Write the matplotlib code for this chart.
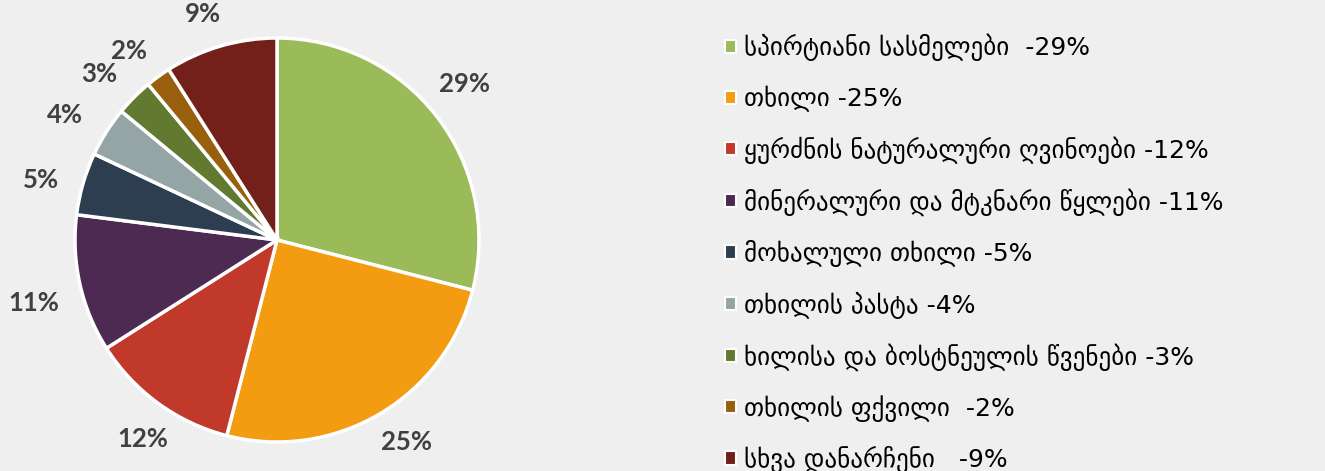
import matplotlib
matplotlib.use("Agg")
import numpy as np
import matplotlib.pyplot as plt
from matplotlib.patches import Patch

# ---- data ----
names = [
    "სპირტიანი სასმელები ",
    "თხილი",
    "ყურძნის ნატურალური ღვინოები",
    "მინერალური და მტკნარი წყლები",
    "მოხალული თხილი",
    "თხილის პასტა",
    "ხილისა და ბოსტნეულის წვენები",
    "თხილის ფქვილი ",
    "სხვა დანარჩენი  ",
]
values = [29, 25, 12, 11, 5, 4, 3, 2, 9]
colors = ["#9BBB59", "#F39C12", "#C0392B", "#4D2A52", "#2C3E50",
          "#95A5A6", "#617A30", "#98600C", "#73201B"]

legend_labels = [f"{n} -{v}%" for n, v in zip(names, values)]
pct_labels = [f"{v}%" for v in values]

W, H = 1325, 471
fig = plt.figure(figsize=(W / 100, H / 100), dpi=100)
fig.patch.set_facecolor("#EFEFEF")

cx, cy, r = 277, H - 240, 202
ax = fig.add_axes([(cx - r) / W, (cy - r) / H, 2 * r / W, 2 * r / H])
ax.set_facecolor("none")

wedges, texts = ax.pie(
    values, colors=colors, startangle=90, counterclock=False,
    labels=pct_labels, labeldistance=1.2, radius=1,
    wedgeprops=dict(edgecolor="white", linewidth=2.5),
    textprops=dict(fontsize=18.5, fontweight="bold", color="#404040",
                   family=["Lato", "DejaVu Sans"]),
)
ax.set_xlim(-1, 1)
ax.set_ylim(-1, 1)
ax.set_aspect("equal")
ax.axis("off")

# place each label just outside the pie: nearest edge of its box on a circle
fig.canvas.draw()
renderer = fig.canvas.get_renderer()
gap = 1.115
turn = 2.0  # degrees
for w, t in zip(wedges, texts):
    t.set_horizontalalignment("center")
    t.set_verticalalignment("center")
    bb = t.get_window_extent(renderer)
    hw = bb.width / 2 / r
    hh = bb.height / 2 / r
    th = np.deg2rad((w.theta1 + w.theta2) / 2 + turn)
    c, s = np.cos(th), np.sin(th)
    rho = min(hw / max(abs(c), 1e-6), hh / max(abs(s), 1e-6))
    d = gap + rho
    t.set_position((d * c, d * s))

handles = [Patch(facecolor=c, edgecolor="white", linewidth=1.5) for c in colors]
leg = fig.legend(
    handles, legend_labels, loc="upper left",
    bbox_to_anchor=(725 / W, 1 - 34 / H),
    frameon=False, handlelength=0.45, handleheight=0.45, handletextpad=0.3,
    labelspacing=0.975, borderpad=0, borderaxespad=0,
    prop=dict(size=18, family=["DejaVu Sans", "Noto Sans"]),
)
for t in leg.get_texts():
    t.set_color("#000000")

fig.savefig("out.png", dpi=100, facecolor=fig.get_facecolor())
